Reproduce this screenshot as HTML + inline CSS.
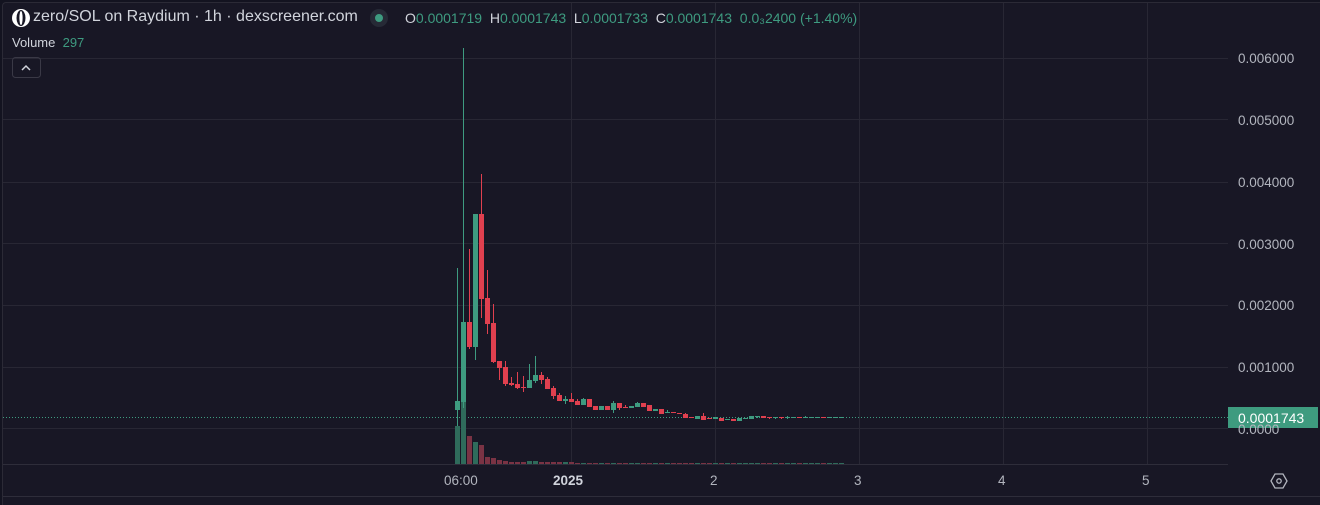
<!DOCTYPE html>
<html><head><meta charset="utf-8"><style>
html,body{margin:0;padding:0;background:#131320;}
body{width:1320px;height:504px;overflow:hidden;position:relative;font-family:"Liberation Sans",sans-serif;}
#frame{position:absolute;left:2px;top:2px;width:1318px;height:502px;background:#181725;border-top:1px solid #2b2a36;border-left:1px solid #2b2a36;border-radius:4px 0 0 0;}
.t{position:absolute;white-space:nowrap;}
</style></head><body>
<div id="frame"></div>
<svg width="1320" height="504" style="position:absolute;left:0;top:0" id="s">
<g stroke="#282734" stroke-width="1">
<line x1="3" y1="58.5" x2="1228" y2="58.5"/><line x1="3" y1="119.5" x2="1228" y2="119.5"/>
<line x1="3" y1="182.5" x2="1228" y2="182.5"/><line x1="3" y1="243.5" x2="1228" y2="243.5"/>
<line x1="3" y1="305.5" x2="1228" y2="305.5"/><line x1="3" y1="367.5" x2="1228" y2="367.5"/>
<line x1="3" y1="428.5" x2="1228" y2="428.5"/>
<line x1="571.5" y1="3" x2="571.5" y2="464"/><line x1="715.5" y1="3" x2="715.5" y2="464"/>
<line x1="859.5" y1="3" x2="859.5" y2="464"/><line x1="1003.5" y1="3" x2="1003.5" y2="464"/>
<line x1="1147.5" y1="3" x2="1147.5" y2="464"/>
</g>
<line x1="3" y1="464.5" x2="1228" y2="464.5" stroke="#2e2d3a"/>
<line x1="3" y1="496.5" x2="1320" y2="496.5" stroke="#2e2d3a"/>
<line x1="3" y1="417.5" x2="1228" y2="417.5" stroke="#3e9b80" stroke-dasharray="1,2"/>
<g id="c"></g>
<rect x="1228" y="407" width="90" height="21" fill="#3e9b7f"/>
<text x="1238" y="423" fill="#fff" font-size="14" font-family="Liberation Sans">0.0001743</text>
<g fill="#b2b5be" font-size="13.5" font-family="Liberation Sans">
<text x="1238" y="63">0.006000</text><text x="1238" y="125">0.005000</text>
<text x="1238" y="187">0.004000</text><text x="1238" y="249">0.003000</text>
<text x="1238" y="310">0.002000</text><text x="1238" y="372">0.001000</text>
<text x="1238" y="434">0.0000</text>
<text x="444" y="485">06:00</text><text x="553" y="485" font-weight="bold" fill="#d1d4dc">2025</text>
<text x="710" y="485">2</text><text x="854" y="485">3</text><text x="998" y="485">4</text><text x="1142" y="485">5</text>
</g>
<polygon points="1271,481 1275,474 1283,474 1287,481 1283,488 1275,488" fill="none" stroke="#b2b5be" stroke-width="1.3"/>
<circle cx="1279" cy="481" r="2.2" fill="none" stroke="#b2b5be" stroke-width="1.3"/>
<circle cx="21" cy="18" r="9" fill="#fff"/>
<ellipse cx="21" cy="18" rx="4.5" ry="8" fill="#181725"/>
<ellipse cx="21" cy="18" rx="1.6" ry="7" fill="#fff"/>
<circle cx="379" cy="18" r="9" fill="#262a36"/>
<circle cx="379" cy="18" r="4" fill="#3e9b80"/>
<rect x="12.5" y="57.5" width="28" height="20" rx="3" fill="none" stroke="#3a3946"/>
<polyline points="22,70 26,66 30,70" fill="none" stroke="#d1d4dc" stroke-width="1.5"/>
</svg>
<div class="t" style="left:33px;top:8px;font-size:16px;color:#d1d4dc">zero/SOL on Raydium · 1h · dexscreener.com</div>
<div class="t" style="left:405px;top:10px;font-size:14px;color:#d1d4dc">O<span style="color:#3e9b80">0.0001719</span>&nbsp; H<span style="color:#3e9b80">0.0001743</span>&nbsp; L<span style="color:#3e9b80">0.0001733</span>&nbsp; C<span style="color:#3e9b80">0.0001743</span>&nbsp; <span style="color:#3e9b80">0.0₃2400 (+1.40%)</span></div>
<div class="t" style="left:12px;top:35px;font-size:13px;color:#d1d4dc">Volume&nbsp; <span style="color:#3e9b80">297</span></div>
<script>
var G="#3e9b80",R="#e0404f";
var d=[
[457.5,G,401,410,268,426,426],[463.5,G,322,402,48,408,402],[469.5,R,322,347,249,349,436],
[475.5,G,214,347,214,360,442],[481.5,R,214,299,174,318,445],[487.5,R,298,324,270,334,457],
[493.5,R,323,362,304,363,458],[499.5,R,361,368,361,380,460],[505.5,R,367,384,361,386,461],
[511.5,R,383,385,377,386,462],[517.5,R,384,388,372,389,462],[523.5,R,387,388,376,392,462],
[529.5,G,380,388,364,388,461],[535.5,G,375,381,356,383,461],[541.5,R,375,380,372,384,462],
[547.5,R,379,389,377,389,462],[553.5,R,388,396,386,399,462],[559.5,R,395,401,393,401,462],
[565.5,G,399,401,396,404,462],[571.5,R,399,402,393,402,462],[577.5,R,401,405,399,405,463],
[583.5,G,399,405,398,405,463],[589.5,R,399,407,399,407,463],[595.5,R,406,410,406,410,463],
[601.5,G,406,410,406,410,463],[607.5,R,406,410,406,410,463],[613.5,G,403,410,401,413,463],
[619.5,R,403,408,403,410,463],[625.5,R,407,408,405,408,463],[631.5,G,406,408,406,408,463],
[637.5,G,403,407,402,407,463],[643.5,R,403,407,403,407,463],[649.5,R,405,411,405,411,463],
[655.5,G,409,411,409,411,463],[661.5,R,409,414,409,414,463],[667.5,G,412,413,410,413,463],
[673.5,R,412,413,412,413,463],[679.5,R,413,414,413,414,463],[685.5,R,414,418,413,418,463],
[691.5,R,417,418,417,418,463],[697.5,G,416,419,416,419,463],[703.5,R,416,420,413,420,463],
[709.5,R,418,419,418,419,463],[715.5,G,417,419,417,419,463],[721.5,R,418,421,418,421,463],
[727.5,G,419,420,419,420,463],[733.5,R,419,421,419,421,463],[739.5,G,418,421,418,421,463],
[745.5,G,418,419,418,419,463],[751.5,G,416,419,416,419,463],[757.5,G,416,417,416,418,463],
[763.5,R,416,418,416,418,463],[769.5,R,417,418,417,419,463],[775.5,G,417,418,417,419,463],
[781.5,R,417,418,417,419,463],[787.5,G,417,418,416,419,463],[793.5,G,417,418,417,418,463],
[799.5,R,417,418,417,418,463],[805.5,G,417,418,416,418,463],[811.5,G,417,418,417,418,463],
[817.5,G,417,418,417,418,463],[823.5,R,417,418,417,418,463],[829.5,G,417,418,417,418,463],
[835.5,G,417,418,417,418,463],[841.5,G,417,418,417,418,463]];
var h="";
d.forEach(function(c){
 var vc=c[1]==G?"#2f6b5b":"#7a3344";
 h+='<rect x="'+(c[0]-2.5)+'" y="'+c[6]+'" width="5" height="'+(464-c[6])+'" fill="'+vc+'"/>';
 h+='<line x1="'+c[0]+'" y1="'+c[4]+'" x2="'+c[0]+'" y2="'+c[5]+'" stroke="'+c[1]+'" stroke-width="1"/>';
 h+='<rect x="'+(c[0]-2.5)+'" y="'+c[2]+'" width="5" height="'+Math.max(1,c[3]-c[2])+'" fill="'+c[1]+'"/>';
});
document.getElementById("c").innerHTML=h;
</script>
</body></html>
